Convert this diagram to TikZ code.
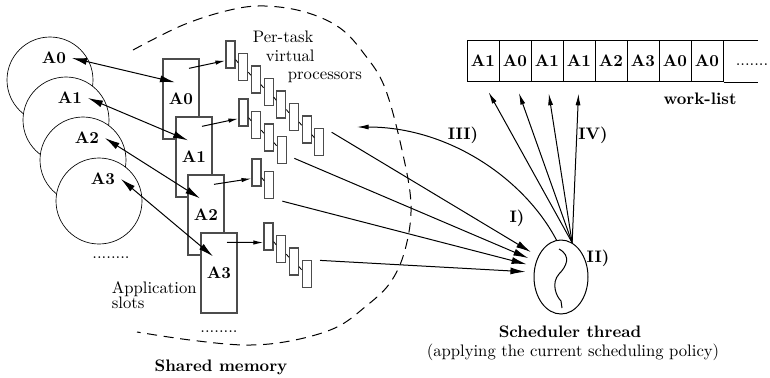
\documentclass[tikz,border=0pt]{standalone}
\usetikzlibrary{arrows.meta,calc,shapes.geometric}
\begin{document}
\begin{tikzpicture}[
        x=0.6pt, y=-0.6pt,
        appcircle/.style={circle, draw, fill=white, minimum size=51.6pt, inner sep=0pt},
        slotbox/.style={rectangle, draw=black!70, fill=white, line width=0.8pt, minimum width=21.6pt, minimum height=48pt, inner sep=0pt, font=\bfseries},
        vproc/.style={rectangle, draw=black!70, fill=white, line width=0.7pt, minimum width=5.4pt, minimum height=16.2pt, inner sep=0pt},
        cell/.style={rectangle, draw, line width=0.6pt, minimum width=19.2pt, minimum height=24.6pt, inner sep=0pt, font=\bfseries},
        bigarrow/.style={-{Latex[length=9pt,width=4.2pt]}, line width=0.6pt},
        dblarrow/.style={{Latex[length=9pt,width=4.2pt]}-{Latex[length=9pt,width=4.2pt]}, line width=0.6pt},
        fanarrow/.style={-{Latex[length=7pt,width=3pt]}, line width=0.6pt},
        smallarrow/.style={-{Latex[length=6pt,width=2.6pt]}, line width=0.6pt},
        tag/.style={font=\bfseries}
    ]
    \useasboundingbox (0,0) rectangle (770,377);

    % Shared memory outline
    \draw[dash pattern=on 6pt off 4pt, line width=0.6pt] plot[smooth, tension=0.6] coordinates {
        (133,50) (183,25) (230,10) (265,6) (305,12) (340,28) (365,55) (385,88)
        (402,150) (411,205) (405,250) (390,283) (365,307) (335,328) (290,341)
        (245,345) (190,340) (137,332)};
    \node[tag, anchor=base] (shmem) at (221,371) {Shared memory};

    % Applications
    \foreach \i/\cx/\cy in {0/50/80, 1/66/120, 2/83/160, 3/99/201} {
        \node[appcircle] (circ_\i) at (\cx,\cy) {};
        \node[tag] (circ_lbl_\i) at ($(circ_\i)+(4,-22)$) {A\i};
    }
    \node (circ_dots) at (111,258) {........};

    % Application slots
    \foreach \i/\rx/\ry in {0/181/99, 1/194/157, 2/206/215, 3/219/273}
        \node[slotbox] (slot_\i) at (\rx,\ry) {A\i};
    \node (slot_dots) at (219,332) {........};
    \node[anchor=west, align=left] (slot_txt) at (106,295) {Application\\[-3pt]slots};

    \foreach \i in {0,...,3}
        \draw[dblarrow] (circ_lbl_\i.east) -- ($(slot_\i.north)+(-6,24)$);

    % Per-task virtual processors
    \foreach \i/\vx/\vy/\n in {0/226/41/8, 1/239/99/4, 2/252/159/2, 3/264/223/4} {
        \foreach \j in {1,...,\n} {
            \node[vproc] (vp_\i_\j) at ({\vx+4.5+12.7*(\j-1)},{\vy+13.5+12.5*(\j-1)}) {};
            \ifnum\j>1
                \pgfmathtruncatemacro\jp{\j-1}
                \draw[line width=0.5pt] (vp_\i_\jp.-45) -- (vp_\i_\j.140);
            \fi
        }
        \draw[smallarrow] ($(slot_\i.north)+(8,10)$) -- (vp_\i_1.-130);
    }
    \node[anchor=base west] (vp_txt1) at (247,42) {Per-task};
    \node[anchor=base west] (vp_txt2) at (260,61) {virtual};
    \node[anchor=base west] (vp_txt3) at (282,79) {processors};

    % Scheduler thread
    \node[ellipse, draw, line width=0.6pt, minimum width=32.4pt, minimum height=44.4pt, inner sep=0pt] (sched) at (561,277) {};
    \draw[line width=0.6pt] (559,249) .. controls (572,256) and (566,267) .. (559,274)
        .. controls (551,283) and (556,296) .. (561,301) -- (562,308);
    \node[tag, anchor=base] (sched_txt) at (570,337) {Scheduler thread};
    \node[anchor=base] (sched_sub) at (573,356) {(applying the current scheduling policy)};

    \foreach \i/\n/\s/\a in {0/8/north east/138, 1/4/-45/148, 2/2/south east/158, 3/4/north east/170}
        \draw[bigarrow, shorten <=5pt, shorten >=5pt] (vp_\i_\n.\s) -- (sched.\a);

    % Work-list
    \foreach \lbl [count=\c] in {A1,A0,A1,A1,A2,A3,A0,A0}
        \node[cell] (cell_\c) at ({483+32*(\c-1)},61) {\lbl};
    \draw[line width=0.6pt] (cell_8.north east) -- ++(34,0);
    \draw[line width=0.6pt] (cell_8.south east) -- ++(34,0);
    \node (cell_dots) at (752,65) {.......};
    \node[tag, anchor=base] (wl_txt) at (700,104) {work-list};

    \foreach \c in {1,...,4}
        \draw[fanarrow, shorten >=7pt] (sched.72) -- (cell_\c.south);

    % Steps
    \coordinate (vp_back) at (357,127);
    \draw[fanarrow] (sched.97) .. controls (525,180) and (450,127) .. (vp_back);
    \node[tag] (step_1) at (517,218) {I)};
    \node[tag] (step_2) at (598,258) {II)};
    \node[tag] (step_3) at (463,135) {III)};
    \node[tag] (step_4) at (593,135) {IV)};

\end{tikzpicture}
\end{document}
